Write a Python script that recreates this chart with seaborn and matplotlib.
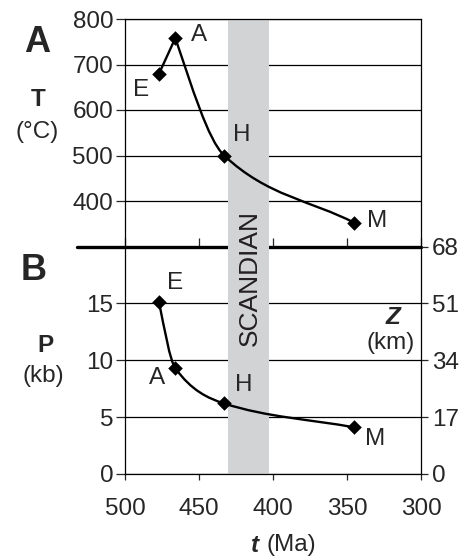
import numpy as np
import matplotlib
matplotlib.use("Agg")
import matplotlib.pyplot as plt
from matplotlib.path import Path
from matplotlib.patches import PathPatch
import seaborn as sns

# --- data ---
stages = ["E", "A", "H", "M"]
age = [477, 466, 433, 345]          # t (Ma)
temp = [680, 758, 500, 352]         # T (°C)
pres = [15.1, 9.3, 6.2, 4.1]        # P (kb)

scandian = (430.5, 403)             # Ma
t_ticks = [500, 450, 400, 350, 300]
T_ticks = [400, 500, 600, 700, 800]
P_ticks = [0, 5, 10, 15]
Z_ticks = [0, 17, 34, 51, 68]

sns.set_style("white")
plt.rcParams["font.family"] = ["Liberation Sans", "DejaVu Sans"]

FS = 17.5
GRAY = "#d1d3d4"


def end_slope(h1, h2, d1, d2):
    m = ((2 * h1 + h2) * d1 - h1 * d2) / (h1 + h2)
    if m * d1 <= 0 or abs(m) > 3 * abs(d1):
        return d1
    return m


def smooth_path(x, y):
    # monotone cubic (pchip style) drawn as bezier segments
    x = np.asarray(x, float)
    y = np.asarray(y, float)
    h = np.diff(x)
    d = np.diff(y) / h
    n = len(x)
    m = np.zeros(n)
    if n > 2:
        m[0] = end_slope(h[0], h[1], d[0], d[1])
        m[-1] = end_slope(h[-1], h[-2], d[-1], d[-2])
    else:
        m[0], m[-1] = d[0], d[-1]
    for i in range(1, n - 1):
        if d[i - 1] * d[i] > 0:
            w1 = 2 * h[i] + h[i - 1]
            w2 = h[i] + 2 * h[i - 1]
            m[i] = (w1 + w2) / (w1 / d[i - 1] + w2 / d[i])
    verts = [(x[0], y[0])]
    codes = [Path.MOVETO]
    for i in range(n - 1):
        verts += [
            (x[i] + h[i] / 3, y[i] + m[i] * h[i] / 3),
            (x[i + 1] - h[i] / 3, y[i + 1] - m[i + 1] * h[i] / 3),
            (x[i + 1], y[i + 1]),
        ]
        codes += [Path.CURVE4] * 3
    return Path(verts, codes)


def add_curve(ax, x, y):
    ax.add_patch(PathPatch(smooth_path(x, y), facecolor="none",
                           edgecolor="black", lw=1.7, zorder=3))


def style_axis(ax):
    for s in ax.spines.values():
        s.set_color("black")
        s.set_linewidth(0.9)
    ax.yaxis.grid(True, color="black", lw=0.9)
    ax.set_axisbelow(True)
    ax.set_xlim(500, 300)
    ax.set_xticks(t_ticks)
    ax.set_xlabel("")
    ax.set_ylabel("")


fig = plt.figure(figsize=(4.76, 5.6), dpi=100)
L, W = 125 / 476, 296 / 476
ax_t = fig.add_axes([L, 1 - 246.5 / 560, W, (246.5 - 19) / 560])
ax_b = fig.add_axes([L, 1 - 474 / 560, W, (474 - 246.5) / 560])
ax_b.patch.set_visible(False)

# --- panel A: temperature ---
add_curve(ax_t, age[:2], temp[:2])
add_curve(ax_t, age[1:], temp[1:])
sns.scatterplot(x=age, y=temp, ax=ax_t, marker="D", s=55, color="black",
                linewidth=0, zorder=4)
style_axis(ax_t)
ax_t.axvspan(*scandian, color=GRAY, lw=0, zorder=2.2)
ax_t.set_ylim(300, 800)
ax_t.set_yticks(T_ticks)
ax_t.spines["bottom"].set_visible(False)
ax_t.tick_params(axis="y", direction="out", length=6.5, width=0.9,
                 labelsize=FS, pad=2, left=True)
ax_t.tick_params(axis="x", direction="in", length=6.5, width=0.9,
                 bottom=True, labelbottom=False)

offs_t = [(-13, -11.5), (17, 2), (13, 15), (16.5, 1.5)]
for lab, x, y, off in zip(stages, age, temp, offs_t):
    ax_t.annotate(lab, (x, y), xytext=off, textcoords="offset points",
                  ha="center", va="center", fontsize=FS)

# --- panel B: pressure / depth ---
add_curve(ax_b, age, pres)
sns.scatterplot(x=age, y=pres, ax=ax_b, marker="D", s=55, color="black",
                linewidth=0, zorder=4)
style_axis(ax_b)
# band runs a little above the axes so it hides the divider line
ax_b.axvspan(*scandian, ymin=0, ymax=1.03, color=GRAY, lw=0, zorder=2.2,
             clip_on=False)
ax_b.set_ylim(0, 20)
ax_b.set_yticks(P_ticks)
ax_b.spines["top"].set_visible(False)
ax_b.spines["right"].set_visible(False)
ax_b.tick_params(axis="y", direction="out", length=6.5, width=0.9,
                 labelsize=FS, pad=2, left=True)
ax_b.tick_params(axis="x", direction="out", length=4.5, width=0.9,
                 labelsize=FS, pad=13, bottom=True)
# thick divider between the panels, running out to the left
ax_b.axhline(20, xmin=-48 / 296, xmax=1, color="black", lw=2.4,
             clip_on=False, zorder=2.1)

ax_z = ax_b.twinx()
ax_z.set_ylim(0, 68)
ax_z.set_yticks(Z_ticks)
for side in ["top", "bottom", "left"]:
    ax_z.spines[side].set_visible(False)
ax_z.spines["right"].set_color("black")
ax_z.spines["right"].set_linewidth(0.9)
ax_z.tick_params(axis="y", direction="out", length=5, width=0.9,
                 labelsize=FS, pad=3, right=True)

offs_b = [(11.5, 13.7), (-13, -7), (14.4, 13), (15, -8.6)]
for lab, x, y, off in zip(stages, age, pres, offs_b):
    ax_b.annotate(lab, (x, y), xytext=off, textcoords="offset points",
                  ha="center", va="center", fontsize=FS)


# --- free text, positions in pixels ---
def ftext(x, y, s, **kw):
    fig.text(x / 476, 1 - y / 560, s, **kw)


ftext(250, 278, "SCANDIAN", rotation=90, ha="center", va="center",
      fontsize=19, color="#231f20")
ftext(37, 43, "A", ha="center", va="center", fontsize=26, fontweight="bold")
ftext(34, 270, "B", ha="center", va="center", fontsize=26, fontweight="bold")
ftext(38, 100, "T", ha="center", va="center", fontsize=FS, fontweight="bold")
ftext(37, 132, "(°C)", ha="center", va="center", fontsize=FS)
ftext(45, 345, "P", ha="center", va="center", fontsize=FS, fontweight="bold")
ftext(43, 376, "(kb)", ha="center", va="center", fontsize=FS)
ftext(393, 318, "Z", ha="center", va="center", fontsize=FS,
      fontweight="bold", fontstyle="italic")
ftext(391, 343, "(km)", ha="center", va="center", fontsize=FS)
ftext(259, 545, "t", ha="right", va="center", fontsize=FS,
      fontweight="bold", fontstyle="italic")
ftext(266, 545, "(Ma)", ha="left", va="center", fontsize=FS)

fig.savefig("out.png", dpi=100)
